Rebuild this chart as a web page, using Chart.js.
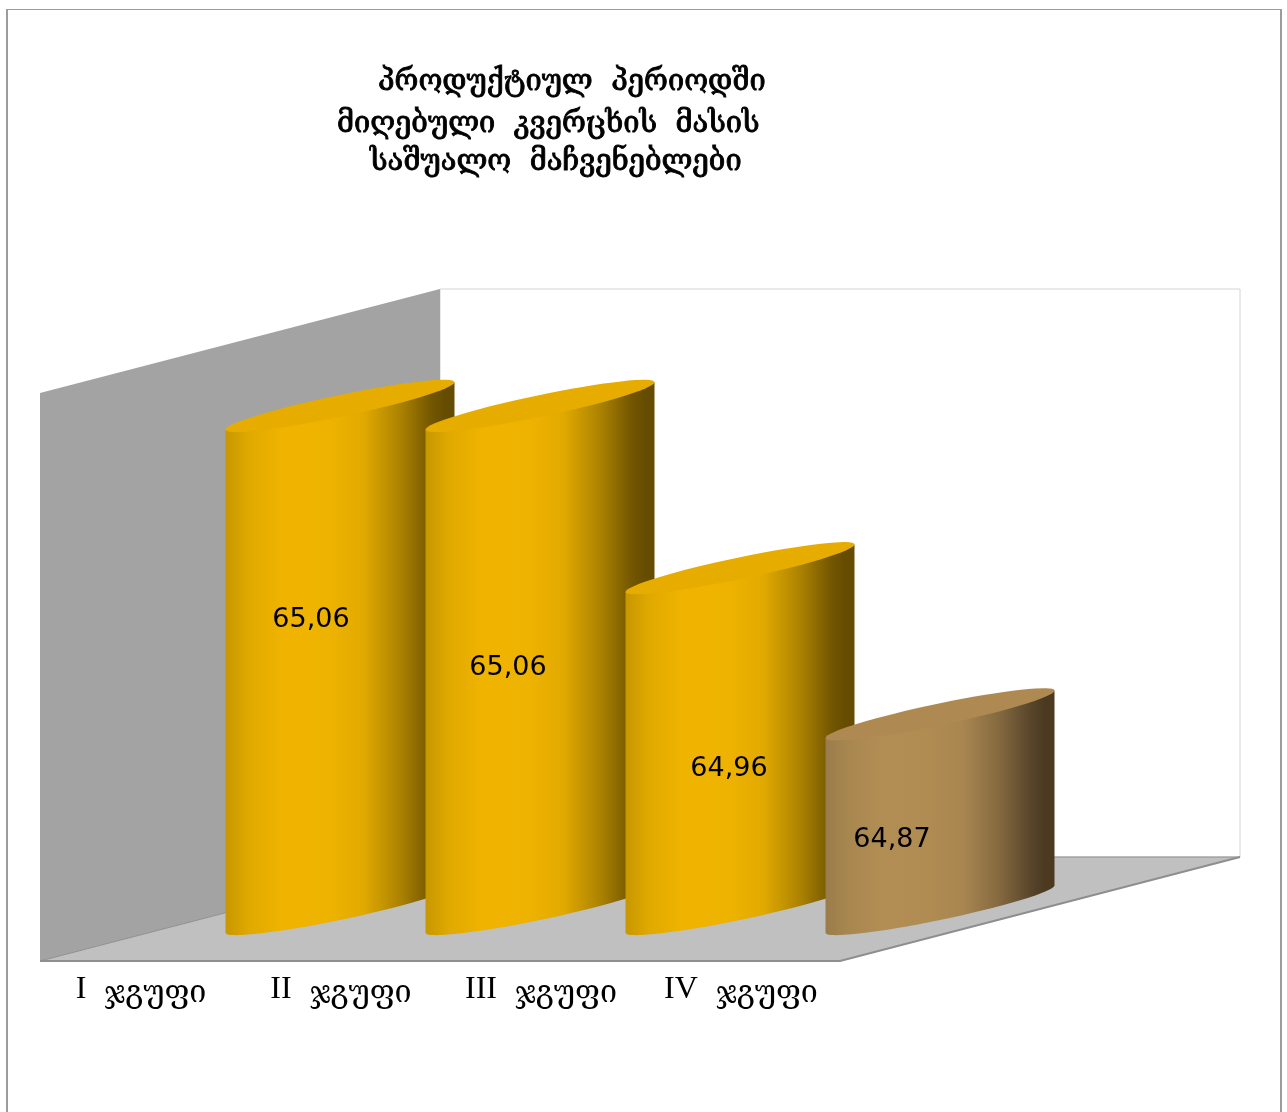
<!DOCTYPE html>
<html>
<head>
<meta charset="utf-8">
<script src="https://cdn.jsdelivr.net/npm/chart.js@4/dist/chart.umd.min.js"></script>
<style>
  html, body { margin: 0; padding: 0; background: #fff; }
  #wrap { width: 1287px; height: 1112px; position: relative; overflow: hidden; }
</style>
</head>
<body>
<div id="wrap"><canvas id="myChart" width="1287" height="1112"></canvas></div>
<script>
const categories = ["I", "II", "III", "IV"];
const groupWord = "ჯგუფი";
const massValues = [65.06, 65.06, 64.96, 64.87];
const valueLabels = ["65,06", "65,06", "64,96", "64,87"];
const titleLines = ["პროდუქტიულ  პერიოდში", "მიღებული  კვერცხის  მასის", "საშუალო  მაჩვენებლები"];

// colours for each cylinder: top, then the body stops from left to right
const goldTop = "#e6ad00";
const goldBody = ["#c79700", "#dfa900", "#f0b400", "#eeb300", "#e2aa00", "#ad8300", "#735600", "#664c00"];
const tanTop = "#ae8a52";
const tanBody = ["#9a7c4c", "#a8874f", "#b28e54", "#b08c52", "#a88650", "#84693f", "#57442a", "#4b3a20"];
const bodyStops = [0, 0.1, 0.25, 0.45, 0.6, 0.76, 0.9, 0.96];
const tops = [goldTop, goldTop, goldTop, tanTop];
const bodies = [goldBody, goldBody, goldBody, tanBody];

// where the value text sits relative to middle of the cylinder
const labelNudge = [[-29, -37], [-32, 11], [-11, 30], [-48, 28]];

const depthX = 200;
const depthY = 52;

function poly(ctx, pts, fill, stroke) {
  ctx.beginPath();
  pts.forEach(function (p, i) {
    if (i === 0) ctx.moveTo(p[0], p[1]);
    else ctx.lineTo(p[0], p[1]);
  });
  ctx.closePath();
  if (fill) { ctx.fillStyle = fill; ctx.fill(); }
  if (stroke) { ctx.strokeStyle = stroke; ctx.lineWidth = 1; ctx.stroke(); }
}

const stage = {
  id: "stage",
  // outer frame, walls and floor go under the bars
  beforeDatasetsDraw(chart) {
    const ctx = chart.ctx;
    const a = chart.chartArea;
    const fl = a.left - depthX, fr = a.right - depthX;
    const bl = a.left + depthX, br = a.right + depthX;
    const ft = a.top + depthY, fb = a.bottom + depthY;
    const bt = a.top - depthY, bb = a.bottom - depthY;

    ctx.save();
    ctx.strokeStyle = "#9c9c9c";
    ctx.lineWidth = 2;
    ctx.beginPath();
    ctx.moveTo(7, 1112);
    ctx.lineTo(7, 10);
    ctx.moveTo(1281, 10);
    ctx.lineTo(1281, 1112);
    ctx.stroke();
    ctx.lineWidth = 1;
    ctx.beginPath();
    ctx.moveTo(6, 9.5);
    ctx.lineTo(1282, 9.5);
    ctx.stroke();

    poly(ctx, [[bl, bt], [br, bt], [br, bb], [bl, bb]], "#ffffff", "#d4d4d4");
    poly(ctx, [[fl, ft], [bl, bt], [bl, bb], [fl, fb]], "#a3a3a3", null);
    poly(ctx, [[fl, fb], [bl, bb], [br, bb], [fr, fb]], "#c0c0c0", null);

    ctx.strokeStyle = "#8e8e8e";
    ctx.lineWidth = 2;
    ctx.beginPath();
    ctx.moveTo(fl, fb);
    ctx.lineTo(fr, fb);
    ctx.lineTo(br, bb);
    ctx.stroke();
    ctx.lineWidth = 1;
    ctx.beginPath();
    ctx.moveTo(fl, fb);
    ctx.lineTo(bl, bb);
    ctx.lineTo(br, bb);
    ctx.stroke();
    ctx.restore();
  },
  // every bar becomes a sheared cylinder
  afterDatasetsDraw(chart) {
    const ctx = chart.ctx;
    const bars = chart.getDatasetMeta(0).data;
    const floorY = chart.scales.y.bottom;
    bars.forEach(function (bar, i) {
      const hw = bar.width * 0.5725;
      const rise = hw * 0.207;
      const thick = 11;
      const h = floorY - bar.y;
      ctx.save();
      ctx.translate(bar.x, bar.y);
      ctx.transform(1, -rise / hw, 0, 1, 0, 0);

      const g = ctx.createLinearGradient(-hw, 0, hw, 0);
      bodyStops.forEach(function (s, k) {
        g.addColorStop(s, bodies[i][k]);
      });
      ctx.beginPath();
      ctx.moveTo(-hw, 0);
      ctx.lineTo(-hw, h);
      ctx.ellipse(0, h, hw, thick, 0, Math.PI, 0, true);
      ctx.lineTo(hw, 0);
      ctx.closePath();
      ctx.fillStyle = g;
      ctx.fill();

      ctx.beginPath();
      ctx.ellipse(0, 0, hw, thick, 0, 0, Math.PI * 2);
      ctx.fillStyle = tops[i];
      ctx.fill();
      ctx.restore();
    });

    // value labels
    ctx.save();
    ctx.fillStyle = "#000";
    ctx.font = "27px 'DejaVu Sans'";
    ctx.textAlign = "center";
    ctx.textBaseline = "middle";
    bars.forEach(function (bar, i) {
      const mid = (bar.y + floorY) / 2;
      ctx.fillText(valueLabels[i], bar.x + labelNudge[i][0], mid + labelNudge[i][1]);
    });
    ctx.restore();

    // category labels sit under the front edge of the floor
    const xs = chart.scales.x;
    categories.forEach(function (cat, i) {
      const cx = xs.getPixelForValue(i) - depthX;
      ctx.save();
      ctx.fillStyle = "#000";
      ctx.textAlign = "left";
      ctx.textBaseline = "alphabetic";
      ctx.font = "32px 'Liberation Serif'";
      const w1 = ctx.measureText(cat).width;
      ctx.fillText(cat, cx + 1 - (w1 + 18 + 102) / 2, 998);
      ctx.font = "30.5px 'DejaVu Serif'";
      ctx.translate(cx + 1 - (w1 + 18 + 102) / 2 + w1 + 18, 1002);
      ctx.scale(1, 1.05);
      ctx.fillText(groupWord, 0, 0);
      ctx.restore();
    });

    // title, regular face thickened with a thin outline
    ctx.save();
    ctx.fillStyle = "#000";
    ctx.strokeStyle = "#000";
    ctx.lineWidth = 0.9;
    ctx.font = "29px 'DejaVu Serif'";
    ctx.textAlign = "left";
    ctx.textBaseline = "alphabetic";
    const rows = [[378, 90], [337, 132], [370, 170]];
    titleLines.forEach(function (line, i) {
      ctx.fillText(line, rows[i][0], rows[i][1]);
      ctx.strokeText(line, rows[i][0], rows[i][1]);
    });
    ctx.restore();
  }
};

new Chart(document.getElementById("myChart"), {
  type: "bar",
  data: {
    labels: categories,
    datasets: [{
      data: massValues,
      backgroundColor: "rgba(0,0,0,0)",
      barPercentage: 1,
      categoryPercentage: 1
    }]
  },
  options: {
    responsive: false,
    animation: false,
    layout: { padding: { left: 240, right: 247, top: 341, bottom: 203 } },
    scales: {
      x: { display: false },
      y: { display: false, min: 64.75, max: 65.1 }
    },
    plugins: {
      legend: { display: false },
      title: { display: false },
      tooltip: { enabled: false }
    }
  },
  plugins: [stage]
});
</script>
</body>
</html>
